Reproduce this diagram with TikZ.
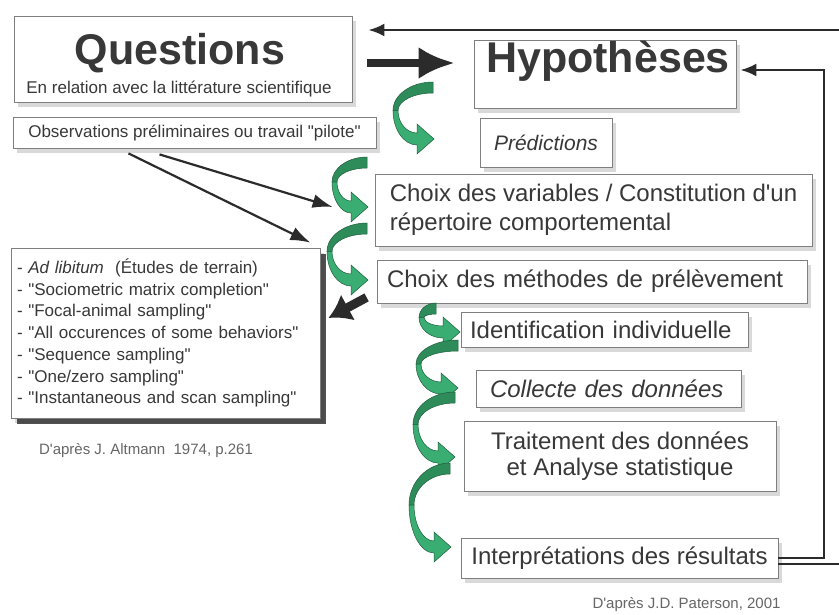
\documentclass[tikz,border=0pt]{standalone}
\usepackage{fontspec}
\setmainfont{Liberation Sans}[Ligatures=TeXOff]
\usetikzlibrary{arrows.meta,shadows,calc}

\definecolor{txtgray}{HTML}{383838}
\definecolor{boxgray}{HTML}{7F7F7F}
\definecolor{linegray}{HTML}{2B2B2B}
\definecolor{greenfront}{HTML}{3AAE72}
\definecolor{greenback}{HTML}{2E8B5A}
\definecolor{greenline}{HTML}{1E5E3C}

% twisted green arrow: top x, top y, leftmost x, tip x, tip y
\newcommand{\greenturn}[5]{%
  \pgfmathsetmacro\gtm{(#2+#5)/2}%
  \pgfmathsetmacro\gth{#4-17}%
  \draw[turnback] (#1,#2) .. controls ({#1-0.55*(#1-#3)},#2) and (#3,{\gtm-0.55*(\gtm-#2)}) .. (#3,\gtm)
    -- ({#3+5},\gtm) .. controls ({#3+5},{\gtm-0.55*(\gtm-#2-11)}) and ({#1-0.55*(#1-#3-5)},{#2+11}) .. (#1,{#2+11}) -- cycle;
  \draw[turnfront] (#3,\gtm) .. controls (#3,{\gtm+0.55*(#5+6-\gtm)}) and ({\gth-0.55*(\gth-#3)},{#5+6}) .. (\gth,{#5+6})
    -- (\gth,{#5+15}) -- (#4,#5) -- (\gth,{#5-15}) -- (\gth,{#5-6})
    .. controls ({\gth-0.55*(\gth-#3-5)},{#5-6}) and ({#3+5},{\gtm+0.55*(#5-6-\gtm)}) .. ({#3+5},\gtm) -- cycle;
}

\begin{document}
\begin{tikzpicture}[x=1pt,y=-1pt,
  box/.style={draw=boxgray, line width=0.8pt, fill=white, inner sep=0pt, text=txtgray,
    drop shadow={shadow xshift=4pt, shadow yshift=-5pt, fill=black, opacity=0.15}},
  listbox/.style={box, drop shadow={shadow xshift=6pt, shadow yshift=-6pt, fill=black!80, opacity=0.85}},
  title/.style={text=txtgray, inner sep=0pt, anchor=base, font=\fontsize{43}{43}\selectfont\bfseries},
  foot/.style={text=black!60, inner sep=0pt, font=\fontsize{15}{18}\selectfont},
  thinarrow/.style={draw=linegray, line width=2.6pt, -{Latex[length=16pt,width=13pt]}},
  obsarrow/.style={draw=linegray, line width=2.2pt, -{Latex[length=20pt,width=14pt]}},
  bigarrow/.style={draw=linegray, line width=8pt, -{Latex[length=36pt,width=32pt]}},
  fatarrow/.style={draw=linegray, line width=9pt, -{Latex[length=22pt,width=30pt]}},
  turnback/.style={draw=greenline, line width=0.5pt, fill=greenback},
  turnfront/.style={draw=greenline, line width=0.5pt, fill=greenfront}]

\fill[white] (0,0) rectangle (839,614);
\useasboundingbox (0,0) rectangle (839,614);

% boxes
\node[box, minimum width=338pt, minimum height=86pt] (ques) at (183,59) {};
\node[title] (questitle) at (180,64) {Questions};
\node[text=txtgray, inner sep=0pt, anchor=base, font=\fontsize{17}{17}\selectfont] (quessub) at (179,93) {En relation avec la littérature scientifique};

\node[box, minimum width=262pt, minimum height=68pt] (hyp) at (605,74) {};
\node[title] (hyptitle) at (608,72) {Hypothèses};

\node[box, minimum width=363pt, minimum height=31pt, font=\fontsize{17}{20}\selectfont] (obs) at (194.5,132.5) {Observations préliminaires ou travail "pilote"};
\node[box, minimum width=132pt, minimum height=49pt, font=\fontsize{21}{25}\selectfont\itshape] (pred) at (546,142.5) {Prédictions};

\node[box, minimum width=437pt, minimum height=72pt, align=left, font=\fontsize{24}{29}\selectfont] (var) at (593.5,210) {Choix des variables / Constitution d'un\\répertoire comportemental};
\node[box, minimum width=430pt, minimum height=43pt, text width=410pt, align=left, font=\fontsize{24}{29}\selectfont] (meth) at (592,281.5) {Choix des méthodes de prélèvement};
\node[box, minimum width=287pt, minimum height=35pt, text width=269pt, align=left, font=\fontsize{24}{29}\selectfont] (ident) at (604.5,329.5) {Identification individuelle};
\node[box, minimum width=265pt, minimum height=37pt, text width=237pt, align=left, font=\fontsize{24}{29}\selectfont\itshape] (coll) at (608.5,388.5) {Collecte des données};
\node[box, minimum width=312pt, minimum height=70pt, align=center, font=\fontsize{24}{26}\selectfont] (trait) at (620,456) {Traitement des données\\et Analyse statistique};
\node[box, minimum width=317pt, minimum height=40pt, font=\fontsize{24}{29}\selectfont] (interp) at (619.5,558) {Interprétations des résultats};

\node[listbox, minimum width=309pt, minimum height=170pt, text width=297pt, align=left, font=\fontsize{17}{21.7}\selectfont] (list) at (165.5,333) {%
- \textit{Ad libitum}\ \ (Études de terrain)\\
- "Sociometric matrix completion"\\
- "Focal-animal sampling"\\
- "All occurences of some behaviors"\\
- "Sequence sampling"\\
- "One/zero sampling"\\
- "Instantaneous and scan sampling"};

\node[foot] (altmann) at (146,451) {D'après J. Altmann\ \ 1974, p.261};
\node[foot] (paterson) at (686.5,605) {D'après J.D. Paterson, 2001};

% black arrows
\coordinate (topR) at (839,30);
\coordinate (fbk) at (824,70);
\coordinate (outR) at (839,564);
\draw[thinarrow, shorten >=16pt] (topR) -- (ques.east |- topR);
\draw[bigarrow] ($(ques.east)+(15,4)$) -- ($(hyp.west)+(-19,-11)$);
\draw[thinarrow, shorten >=4pt] (interp.east) -- (interp.east -| fbk) -- (fbk) -- (hyp.east |- fbk);
\draw[draw=linegray, line width=2.6pt] ($(interp.east)+(0,6)$) -- (outR);
\draw[obsarrow] ($(obs.south)+(-66,5)$) -- ($(list.north east)+(-10,-5)$);
\draw[obsarrow] ($(obs.south)+(-35,6)$) -- ($(var.west)+(-42,-3)$);
\draw[fatarrow] ($(meth.south west)+(-10,-6)$) -- ($(list.east)+(8,-15)$);

% green arrows
\greenturn{433}{82}{393}{434}{139}
\greenturn{367}{157}{332}{368}{207}
\greenturn{367}{223}{327}{368}{280}
\greenturn{436}{303}{419}{460}{332}
\greenturn{458}{340}{416}{458}{388}
\greenturn{455}{392}{413}{455}{457}
\greenturn{450}{463}{409}{451}{547}
\end{tikzpicture}
\end{document}
